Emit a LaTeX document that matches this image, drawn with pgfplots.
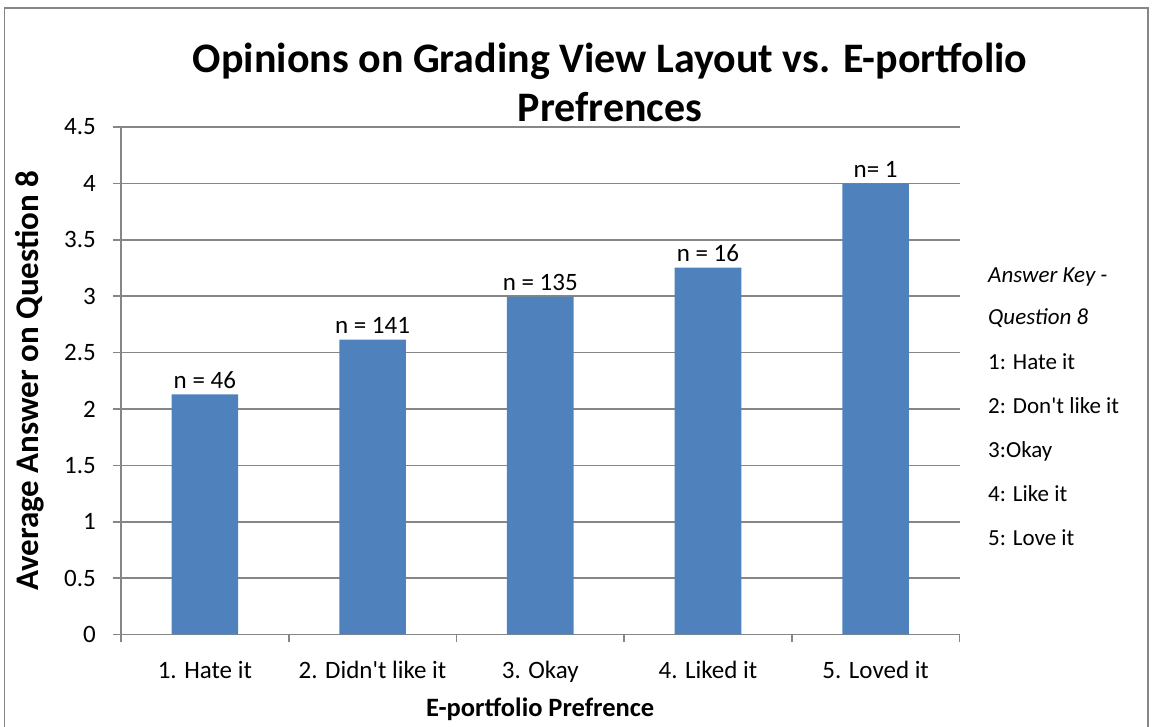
\documentclass[border=0pt]{standalone}
\usepackage{fontspec}
\setmainfont{Carlito}[Ligatures=TeXOff]
\usepackage{pgfplots}
\pgfplotsset{compat=1.18}
\definecolor{barblue}{HTML}{4F81BD}
\definecolor{gridgray}{HTML}{868686}
\begin{document}
\begin{tikzpicture}
\path[use as bounding box] (0,0) rectangle (1154pt,727pt);
\draw[gridgray, line width=1.2pt] (4.5pt,0pt) -- (4.5pt,719pt) -- (1148pt,719pt) -- (1148pt,0pt);
\begin{axis}[
  at={(121pt,92.5pt)}, anchor=south west,
  scale only axis, width=838.5pt, height=507.5pt,
  xmin=0.5, xmax=5.5, ymin=0, ymax=4.5,
  axis x line*=bottom, axis y line*=left,
  axis line style={gridgray, line width=1.6pt},
  ytick={0,0.5,1,1.5,2,2.5,3,3.5,4,4.5},
  yticklabels={0,0.5,1,1.5,2,2.5,3,3.5,4,4.5},
  ymajorgrids, grid style={gridgray, line width=1.6pt},
  tick style={gridgray, line width=1.6pt},
  tick align=outside, major tick length=8pt,
  xtick={0.5,1.5,2.5,3.5,4.5,5.5}, xticklabels={},
  extra x ticks={1,2,3,4,5},
  extra x tick labels={1. Hate it, 2. Didn't like it, 3. Okay, 4. Liked it, 5. Loved it},
  extra x tick style={major tick length=0pt, grid=none, xticklabel style={anchor=base, yshift=-44pt}},
  /pgf/number format/assume math mode=true,
  ticklabel style={font=\fontsize{25}{30}\selectfont, text=black},
  yticklabel style={anchor=east, inner sep=0pt, xshift=-17pt},
  xlabel={E-portfolio Prefrence},
  xlabel style={at={(rel axis cs:0.5,0)}, anchor=base, yshift=-82.5pt, font=\fontsize{26.5}{30}\selectfont\bfseries},
  ylabel={Average Answer on Question 8},
  ylabel style={at={(rel axis cs:-0.1085,0.5)}, anchor=center, rotate=0, font=\fontsize{33}{38}\selectfont\bfseries},
  clip=false,
]
\addplot[ybar, bar width=66.6pt, fill=barblue, draw=none,
  nodes near coords, point meta=explicit symbolic,
  every node near coord/.append style={font=\fontsize{25}{30}\selectfont, text=black, anchor=base, inner sep=0pt, yshift=6pt}]
  coordinates {(1,2.13) [n = 46] (2,2.615) [n = 141] (3,2.996) [n = 135] (4,3.254) [n = 16] (5,4.0) [n= 1]};
\end{axis}
\node[anchor=base, font=\fontsize{42}{50}\selectfont\bfseries] at (610pt,654pt) {Opinions on Grading View Layout vs. E-portfolio};
\node[anchor=base, font=\fontsize{42}{50}\selectfont\bfseries] at (610pt,605pt) {Prefrences};
\begin{scope}[every node/.style={anchor=base west, inner sep=0pt, font=\fontsize{23}{28}\selectfont}]
\node at (988pt,444pt) {\itshape Answer Key -};
\node at (988pt,402pt) {\itshape Question 8};
\node at (988pt,357pt) {1: Hate it};
\node at (988pt,313pt) {2: Don't like it};
\node at (988pt,269pt) {3:Okay};
\node at (988pt,225pt) {4: Like it};
\node at (988pt,181pt) {5: Love it};
\end{scope}
\end{tikzpicture}
\end{document}
